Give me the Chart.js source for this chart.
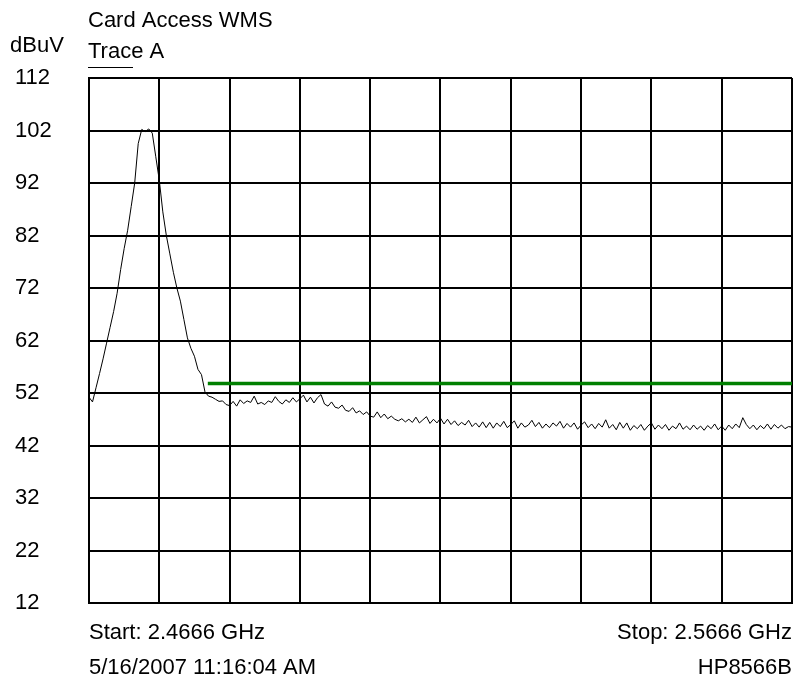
<!DOCTYPE html>
<html>
<head>
<meta charset="utf-8">
<script src="https://cdn.jsdelivr.net/npm/chart.js@4"></script>
<style>
    body { margin: 0; background: #fff; }
</style>
</head>
<body>
<canvas id="traceChart" width="794" height="675"></canvas>
<script>
// sweep settings (GHz)
const startFreq = 2.4666;
const stopFreq = 2.5666;
const xGrid = [2.4666, 2.4766, 2.4866, 2.4966, 2.5066, 2.5166, 2.5266, 2.5366, 2.5466, 2.5566, 2.5666];

// amplitude axis (dBuV)
const yMin = 12;
const yMax = 112;
const yStep = 10;

// limit line
const limitFreqs = [2.4835, 2.5666];
const limitLevels = [53.8, 53.8];

// trace A, equally spaced over the sweep
const traceA = [
    51.2, 50.3, 53.0, 55.7, 58.5, 61.5, 64.5, 67.5, 71.0, 75.5,
    79.5, 83.0, 87.5, 92.0, 99.5, 102.2, 101.8, 102.3, 101.5, 97.0,
    92.5, 86.5, 82.0, 78.5, 75.0, 72.0, 69.5, 66.0, 62.5, 60.5,
    59.0, 56.5, 55.5, 52.2, 51.4, 51.2, 50.8, 50.4, 50.5, 49.8,
    49.6, 50.4, 49.5, 50.7, 50.0, 50.5, 50.2, 51.4, 49.9, 50.2,
    49.8, 50.5, 50.2, 51.3, 50.4, 49.9, 50.7, 50.2, 51.1, 50.3,
    50.9, 51.6, 50.3, 51.2, 50.1, 51.1, 51.7, 49.9, 49.5, 50.3,
    49.3, 49.1, 49.7, 48.7, 48.5, 49.2, 48.2, 48.6, 47.9, 48.4,
    47.6, 47.4, 48.4, 47.3, 48.0, 47.1, 47.6, 47.0, 46.7, 47.1,
    46.5, 47.0, 46.4, 47.4, 46.3, 46.9, 47.5, 46.2, 47.0, 46.3,
    47.2, 46.1, 47.0, 46.0, 46.7, 45.8, 46.4, 45.9, 46.8, 45.6,
    46.3, 45.5, 46.5, 45.4, 46.4, 45.3, 46.3, 45.6, 46.6, 45.4,
    46.0, 46.7, 45.3, 46.3, 45.5, 45.9, 46.8, 45.6, 46.4, 45.3,
    46.1, 45.4, 46.3, 45.7, 46.6, 45.3, 46.2, 45.5, 46.3, 45.1,
    45.9, 46.5, 45.4, 46.1, 45.2, 46.2, 45.5, 46.9, 45.3, 46.0,
    45.0, 46.4, 45.3, 46.3, 44.9, 45.8, 45.2, 46.0, 44.9, 45.7,
    46.3, 45.1, 45.9, 45.2, 46.0, 44.9, 45.7, 45.2, 46.3, 45.1,
    45.7, 45.0, 45.9, 45.1, 45.7, 44.9, 45.8, 45.2, 46.1, 45.0,
    45.7, 44.9, 45.9, 45.2, 46.1, 45.4, 47.3, 46.0, 45.2, 45.9,
    45.0, 45.8, 45.2, 46.1, 45.1, 46.0, 45.3, 45.9, 45.2, 45.6,
    45.5
];

const FONT = "22px 'Liberation Sans', Arial, sans-serif";

// sweep points -> x/y pairs
const stepGHz = (stopFreq - startFreq) / (traceA.length - 1);
const tracePoints = traceA.map((v, i) => ({ x: startFreq + i * stepGHz, y: v }));
const limitPoints = limitFreqs.map((f, i) => ({ x: f, y: limitLevels[i] }));

// header / footer texts like the analyzer printout
const labelsPlugin = {
    id: "analyzerLabels",
    afterDraw(chart) {
        const ctx = chart.ctx;
        const area = chart.chartArea;
        ctx.save();
        ctx.font = FONT;
        ctx.fillStyle = "#000";
        ctx.textBaseline = "alphabetic";
        ctx.textAlign = "left";
        ctx.fillText("Card Access WMS", 88, 27);
        ctx.fillText("dBuV", 10, 52);
        ctx.fillText("Trace A", 88, 58);
        ctx.fillText("Start: 2.4666 GHz", 89, 639);
        ctx.fillText("5/16/2007 11:16:04 AM", 89, 674);
        ctx.textAlign = "right";
        ctx.fillText("Stop: 2.5666 GHz", area.right, 639);
        ctx.fillText("HP8566B", area.right, 674);
        // short line under the trace name
        ctx.strokeStyle = "#000";
        ctx.lineWidth = 1;
        ctx.beginPath();
        ctx.moveTo(88, 67.5);
        ctx.lineTo(133, 67.5);
        ctx.stroke();
        ctx.restore();
    },
};

var ctx = document.getElementById("traceChart").getContext("2d");
var traceChart = new Chart(ctx, {
    type: "line",
    data: {
        datasets: [
            {
                label: "Trace A",
                data: tracePoints,
                borderColor: "#000",
                borderWidth: 1,
                pointRadius: 0,
                tension: 0,
                order: 2,
            },
            {
                label: "Limit",
                data: limitPoints,
                borderColor: "#008000",
                borderWidth: 3.5,
                pointRadius: 0,
                tension: 0,
                order: 1,
            },
        ],
    },
    plugins: [labelsPlugin],
    options: {
        responsive: false,
        animation: false,
        layout: {
            padding: { left: 15, top: 78, right: 2, bottom: 72 },
        },
        plugins: {
            legend: { display: false },
            tooltip: { enabled: false },
        },
        scales: {
            x: {
                type: "linear",
                min: startFreq,
                max: stopFreq,
                afterBuildTicks: (scale) => {
                    scale.ticks = xGrid.map((v) => ({ value: v }));
                },
                afterFit: (scale) => {
                    scale.height = 0;
                },
                ticks: { display: false },
                grid: {
                    color: "#000",
                    lineWidth: 2,
                    drawTicks: false,
                },
                border: { color: "#000", width: 2 },
            },
            y: {
                min: yMin,
                max: yMax,
                afterFit: (scale) => {
                    scale.width = 74;
                },
                ticks: {
                    stepSize: yStep,
                    crossAlign: "far",
                    color: "#000",
                    font: { family: "'Liberation Sans', Arial, sans-serif", size: 22 },
                },
                grid: {
                    color: "#000",
                    lineWidth: 2,
                    drawTicks: false,
                },
                border: { color: "#000", width: 2 },
            },
        },
    },
});
</script>
</body>
</html>
